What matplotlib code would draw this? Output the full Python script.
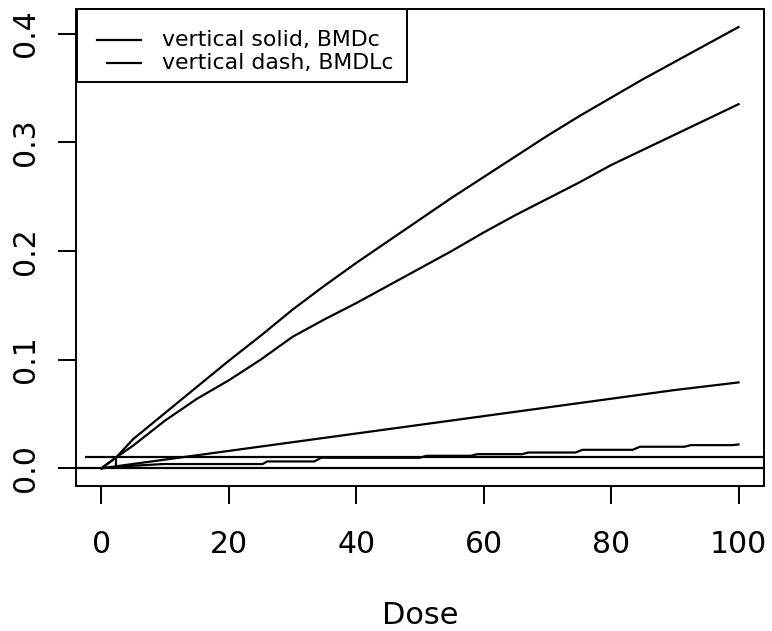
import matplotlib
matplotlib.use("Agg")
import matplotlib.pyplot as plt
from matplotlib.patches import Rectangle
from matplotlib.lines import Line2D

plt.rcParams['font.family'] = ['DejaVu Sans']

# ---- data ----
dose_ab = [0, 2.3, 5, 10, 15, 20, 25, 30, 35, 40, 45, 50, 55, 60, 65, 70, 75, 80, 85, 90, 95, 100]
curve_a = [0, 0.010, 0.027, 0.051, 0.075, 0.099, 0.122, 0.146, 0.168, 0.189, 0.209, 0.229,
           0.249, 0.268, 0.287, 0.306, 0.324, 0.341, 0.358, 0.374, 0.390, 0.406]
curve_b = [0, 0.010, 0.021, 0.044, 0.064, 0.081, 0.100, 0.121, 0.137, 0.152, 0.168, 0.184,
           0.200, 0.217, 0.233, 0.248, 0.263, 0.279, 0.293, 0.307, 0.321, 0.335]
dose_c = [0, 10, 20, 30, 40, 50, 60, 70, 80, 90, 100]
curve_c = [0, 0.008, 0.016, 0.024, 0.032, 0.040, 0.048, 0.056, 0.064, 0.072, 0.079]
dose_d = [0, 4, 9.7, 25.3, 26, 33.4, 34.5, 50, 51, 58, 59, 66, 67, 74.4, 75.5, 83.4, 84.5,
          91.5, 92.5, 99, 100]
curve_d = [0, 0.002, 0.0039, 0.0039, 0.0063, 0.0063, 0.0097, 0.0097, 0.0115, 0.0115, 0.013,
           0.013, 0.0145, 0.0145, 0.017, 0.017, 0.0198, 0.0198, 0.0213, 0.0213, 0.0219]
bmr = 0.01
bmr_line_start = -2.6
bmd = 2.27
x_ticks = [0, 20, 40, 60, 80, 100]
y_ticks = [0.0, 0.1, 0.2, 0.3, 0.4]
y_tick_labels = ["0.0", "0.1", "0.2", "0.3", "0.4"]
legend_labels = ["vertical solid, BMDc", "vertical dash, BMDLc"]
x_label = "Dose"

W, H = 772, 631
fig = plt.figure(figsize=(W / 100, H / 100), dpi=100)
ax_l, ax_r, ax_t, ax_b = 76, 764, 9, 486
ax = fig.add_axes([ax_l / W, 1 - ax_b / H, (ax_r - ax_l) / W, (ax_b - ax_t) / H])

lw = 1.6
for xs, ys in [(dose_ab, curve_a), (dose_ab, curve_b), (dose_c, curve_c), (dose_d, curve_d)]:
    ax.plot(xs, ys, color='black', lw=lw)

ax.axhline(0, color='black', lw=lw)
ax.hlines(bmr, bmr_line_start, 104, color='black', lw=lw)
ax.vlines(bmd, 0, bmr, color='black', lw=lw)

ax.set_xlim(-4, 104)
ax.set_ylim(-0.0163, 0.4226)
ax.set_xticks(x_ticks)
ax.set_xticklabels([str(v) for v in x_ticks])
ax.set_yticks(y_ticks)
ax.set_yticklabels(y_tick_labels, rotation=90, va='center')

for s in ax.spines.values():
    s.set_linewidth(1.4)
ax.tick_params(axis='both', direction='out', length=13, width=1.4, labelsize=21.5)
ax.tick_params(axis='x', pad=19)
ax.tick_params(axis='y', pad=13)

ax.set_xlabel(x_label, fontsize=22)
ax.xaxis.set_label_coords(0.5, (ax_b - 616) / (ax_b - ax_t))
ax.xaxis.label.set_va('center')

# legend box (R style, top-left)
def fx(px):
    return (px - ax_l) / (ax_r - ax_l)

def fy(py):
    return (ax_b - py) / (ax_b - ax_t)

ax.add_patch(Rectangle((fx(76.7), fy(82)), fx(407) - fx(76.7), fy(8.5) - fy(82),
                       transform=ax.transAxes, fill=True, facecolor='white',
                       edgecolor='black', lw=1.4, clip_on=False, zorder=5))
rows = [(96.7, 141, 40), (106.7, 141, 63)]
for (x0, x1, yy), lab in zip(rows, legend_labels):
    ax.add_line(Line2D([fx(x0), fx(x1)], [fy(yy), fy(yy)], transform=ax.transAxes,
                       color='black', lw=lw, clip_on=False, zorder=6))
    ax.text(fx(161.7), fy(yy), lab, transform=ax.transAxes, fontsize=15.8,
            va='center', ha='left', zorder=6)

fig.savefig("out.png", dpi=100)
